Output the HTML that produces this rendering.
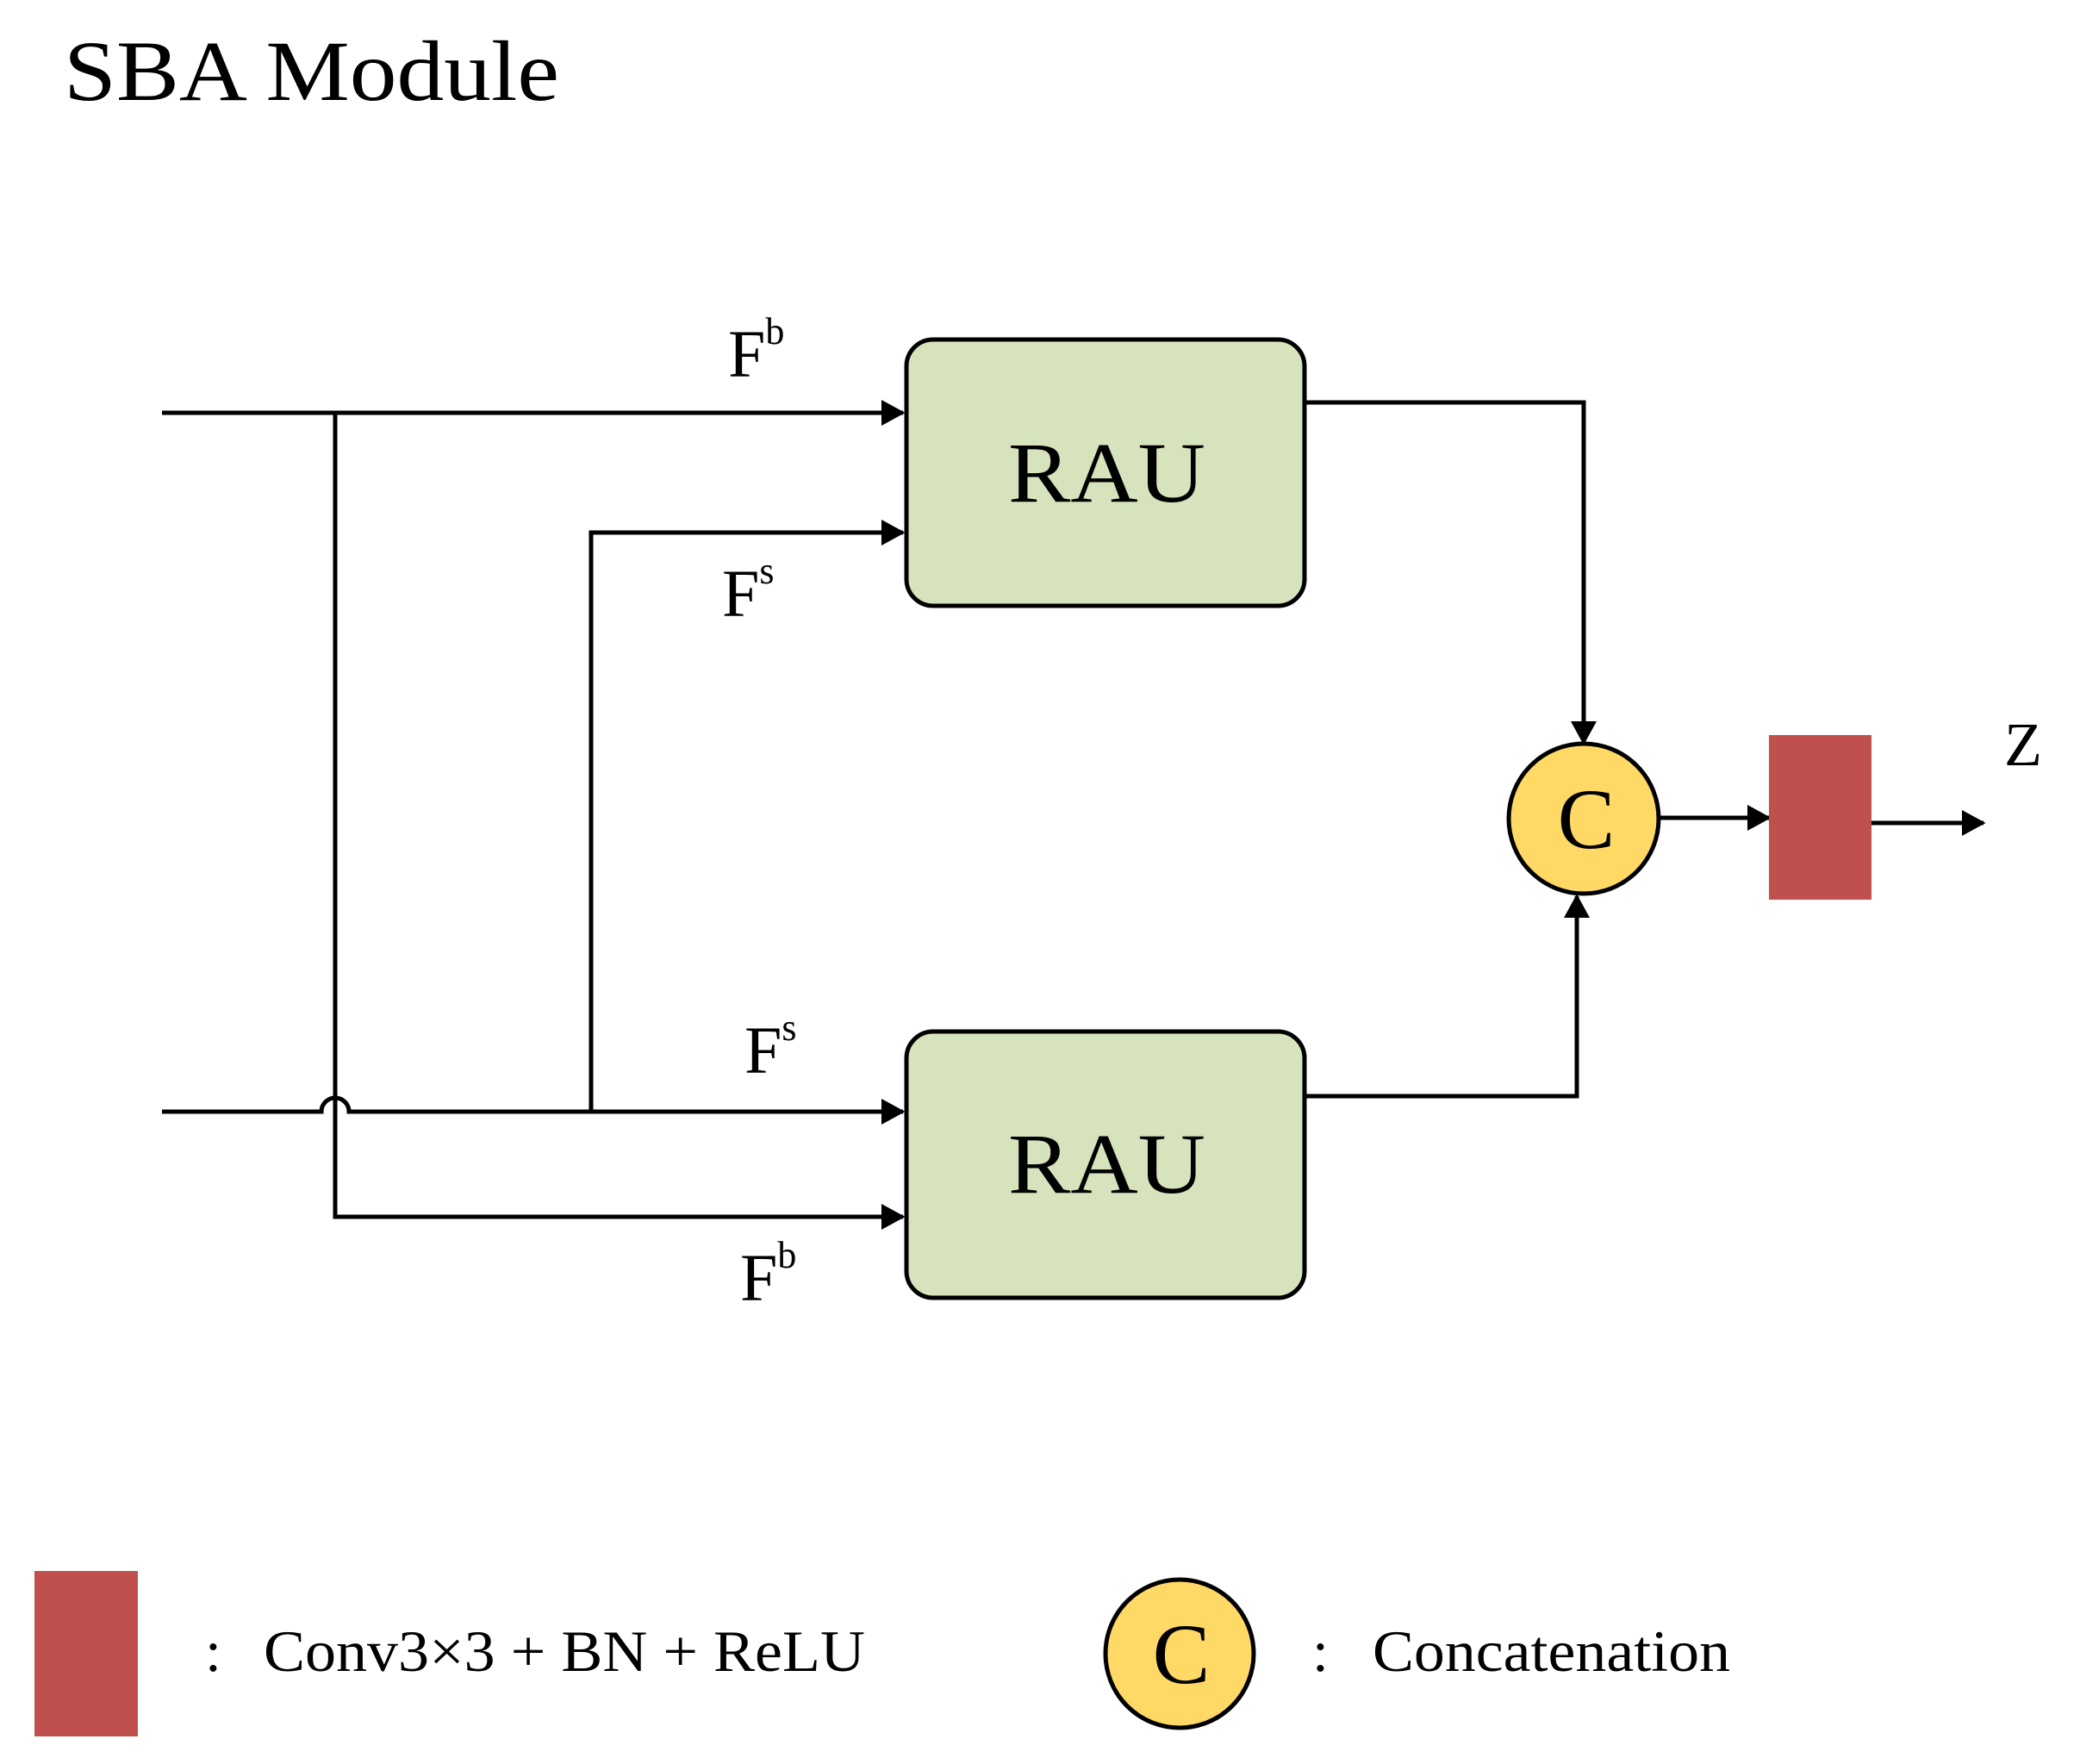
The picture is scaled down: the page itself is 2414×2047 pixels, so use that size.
<!DOCTYPE html>
<html><head><meta charset="utf-8"><style>html,body{margin:0;padding:0;background:#fff}svg{display:block}text{font-family:"Liberation Serif",serif;fill:#000}</style></head><body>
<svg width="2414" height="2047" viewBox="0 0 2414 2047" xmlns="http://www.w3.org/2000/svg">
<defs><marker id="a" markerWidth="6" markerHeight="6" refX="5" refY="3" orient="auto" markerUnits="strokeWidth"><path d="M0,0 L5.5,3 L0,6 Z" fill="#000"/></marker></defs>
<text x="74" y="116" font-size="100" textLength="575" lengthAdjust="spacingAndGlyphs">SBA Module</text>
<g fill="none" stroke="#000" stroke-width="5">
<path d="M188,479 H1048" marker-end="url(#a)"/>
<path d="M389,479 V1412 H1048" marker-end="url(#a)"/>
<path d="M686,1290 V618 H1048" marker-end="url(#a)"/>
<path d="M188,1290 H373 A16,16 0 0 1 405,1290 H1048" marker-end="url(#a)"/>
<path d="M1514,467 H1838 V862" marker-end="url(#a)"/>
<path d="M1514,1272 H1830 V1040" marker-end="url(#a)"/>
<path d="M1925,949 H2053" marker-end="url(#a)"/>
<path d="M2172,955 H2302" marker-end="url(#a)"/>
</g>
<rect x="1052" y="394" width="462" height="309" rx="31" fill="#D6E3BC" stroke="#000" stroke-width="5"/>
<rect x="1052" y="1197" width="462" height="309" rx="31" fill="#D6E3BC" stroke="#000" stroke-width="5"/>
<text x="1170" y="582" font-size="100" textLength="229" lengthAdjust="spacingAndGlyphs">RAU</text>
<text x="1170" y="1384" font-size="100" textLength="229" lengthAdjust="spacingAndGlyphs">RAU</text>
<circle cx="1838" cy="950" r="87" fill="#FFD966" stroke="#000" stroke-width="5"/>
<text x="1841" y="984" font-size="100" text-anchor="middle">C</text>
<rect x="2053" y="853" width="119" height="191" fill="#C0504D"/>
<text x="2326" y="888" font-size="72">Z</text>
<text x="845" y="437" font-size="78">F<tspan font-size="44" dy="-38">b</tspan></text>
<text x="838" y="715" font-size="78">F<tspan font-size="44" dy="-38">s</tspan></text>
<text x="864" y="1245" font-size="78">F<tspan font-size="44" dy="-38">s</tspan></text>
<text x="859" y="1509" font-size="78">F<tspan font-size="44" dy="-38">b</tspan></text>
<rect x="40" y="1823" width="120" height="192" fill="#C0504D"/>
<text x="238" y="1939" font-size="68">:</text>
<text x="306" y="1939" font-size="68" textLength="698" lengthAdjust="spacingAndGlyphs">Conv3×3 + BN + ReLU</text>
<circle cx="1369" cy="1919" r="86" fill="#FFD966" stroke="#000" stroke-width="5"/>
<text x="1371" y="1953" font-size="100" text-anchor="middle">C</text>
<text x="1523" y="1939" font-size="68">:</text>
<text x="1593" y="1939" font-size="68" textLength="415" lengthAdjust="spacingAndGlyphs">Concatenation</text>
</svg>
</body></html>
